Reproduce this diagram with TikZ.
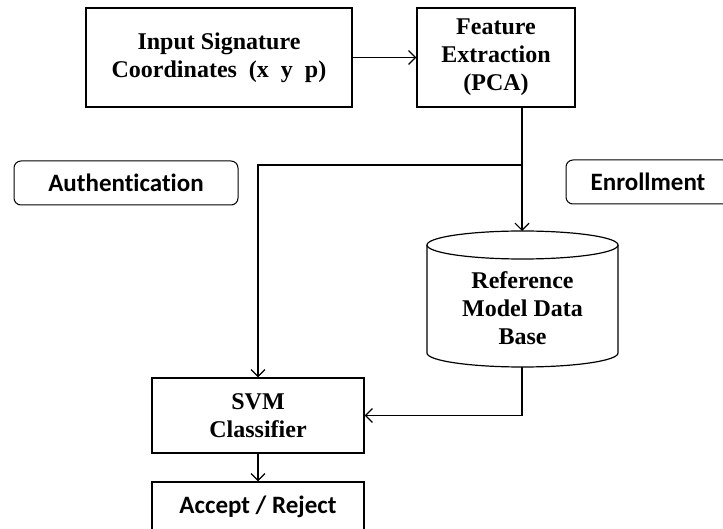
\documentclass[tikz,border=0pt]{standalone}
\usepackage{fontspec}
\setmainfont{Liberation Serif}
\newfontfamily\calfont[Ligatures=NoCommon]{Carlito}
\usetikzlibrary{arrows.meta}
\begin{document}
\begin{tikzpicture}[x=1pt,y=-1pt,
  box/.style={draw, line width=1.2pt, align=center, inner sep=0pt,
    font=\bfseries\fontsize{24}{28}\selectfont},
  tag/.style={draw, line width=1pt, rounded corners=7pt, inner sep=0pt,
    font=\calfont\bfseries\fontsize{25}{28}\selectfont},
  arr/.style={line width=1.2pt, -{Straight Barb[length=7pt,width=14pt,line width=1.2pt]}}]
\useasboundingbox (0,0) rectangle (723,529);
\node[box, minimum width=266pt, minimum height=99pt] (inp) at (219,57.5)
  {Input Signature\\Coordinates\ \ (x\ \ y\ \ p)};
\node[box, minimum width=158pt, minimum height=99pt] (feat) at (496,57.5)
  {Feature\\Extraction\\(PCA)};
\node[tag, minimum width=224pt, minimum height=44pt] (auth) at (126,183) {Authentication};
\node[tag, minimum width=164pt, minimum height=44pt] (enr) at (648,182) {Enrollment};
% cylinder
\draw[line width=1.2pt] (522.5,245) ellipse[x radius=95.5pt, y radius=14pt];
\draw[line width=1.2pt] (427,245) -- (427,353)
  .. controls (427,360.7) and (469.8,367) .. (522.5,367)
  .. controls (575.2,367) and (618,360.7) .. (618,353) -- (618,245);
\node[box, draw=none] (db) at (522.5,308) {Reference\\Model Data\\Base};
\coordinate (dbtop) at (522,231);
\coordinate (dbbot) at (522,367);
\coordinate (br) at (522,165);
\node[box, minimum width=212pt, minimum height=75pt] (svm) at (258,415.5)
  {SVM\\Classifier};
\node[box, minimum width=212pt, minimum height=50pt, font=\calfont\bfseries\fontsize{25}{28}\selectfont] (acc) at (258,507)
  {Accept / Reject};
\draw[arr] (inp) -- (feat);
\draw[arr] (feat.south -| dbtop) -- (dbtop);
\draw[arr] (br) -| (svm.north);
\draw[arr] (dbbot) |- (svm.east);
\draw[arr] (svm) -- (acc);
\end{tikzpicture}
\end{document}
